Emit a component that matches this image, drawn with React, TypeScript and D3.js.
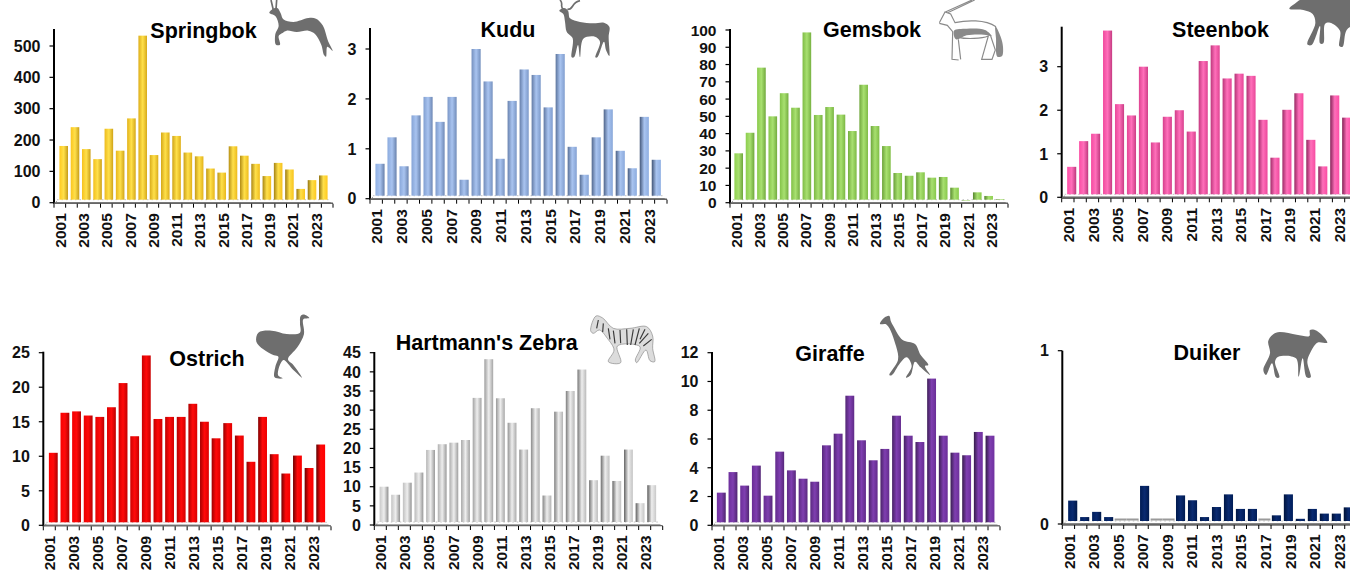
import React from "react";
import * as d3 from "d3";

const years = d3.range(2001, 2025).map(String);

const springbok = [181, 241, 171, 139, 236, 166, 269, 533, 152, 224, 213, 160, 148, 109, 96, 180, 150, 124, 85, 127, 106, 44, 72, 87];
const kudu = [0.7, 1.23, 0.65, 1.67, 2.04, 1.54, 2.04, 0.38, 3, 2.35, 0.8, 1.96, 2.59, 2.48, 1.83, 2.9, 1.04, 0.48, 1.23, 1.79, 0.96, 0.61, 1.64, 0.78];
const gemsbok = [28.6, 40.5, 78.2, 50, 63.4, 55, 98.6, 50.8, 55.4, 51, 41.5, 68.3, 44.4, 32.8, 17.2, 15.6, 17.6, 14.5, 14.9, 8.7, 1.5, 6, 3.9, 2.1];
const steenbok = [0.7, 1.29, 1.46, 3.83, 2.14, 1.88, 3.0, 1.26, 1.85, 2.0, 1.51, 3.13, 3.49, 2.73, 2.84, 2.79, 1.78, 0.91, 2.01, 2.39, 1.32, 0.71, 2.34, 1.83];
const ostrich = [10.5, 16.3, 16.5, 15.9, 15.7, 17.1, 20.6, 12.9, 24.6, 15.4, 15.7, 15.7, 17.6, 15, 12.6, 14.8, 13, 9.2, 15.7, 10.3, 7.5, 10.1, 8.3, 11.7];
const zebra = [10, 7.9, 11.05, 13.7, 19.6, 21.1, 21.5, 22.2, 33.2, 43.3, 33.1, 26.7, 19.7, 30.5, 7.7, 29.6, 35, 40.6, 11.7, 18.1, 11.5, 19.7, 5.7, 10.4];
const giraffe = [2.27, 3.7, 2.76, 4.15, 2.06, 5.12, 3.82, 3.24, 3.03, 5.56, 6.37, 9.01, 5.91, 4.52, 5.31, 7.62, 6.23, 5.79, 10.2, 6.23, 5.05, 4.87, 6.49, 6.23];
const duiker = [0.135, 0.04, 0.07, 0.04, 0, 0, 0.22, 0, 0, 0.165, 0.137, 0.04, 0.098, 0.171, 0.087, 0.087, 0, 0.05, 0.171, 0.03, 0.087, 0.06, 0.06, 0.096];

type Panel = {
  key: string; title: string; values: number[]; ticks: number[];
  axisX: number; axisEnd: number; barFirst: number; barLast: number;
  top: number; y0: number; yTickTop: number; titleX: number; titleY: number;
  mid: string; dark: string; light: string; fs: number; floorW: number;
};

const panels: Panel[] = [
  { key: "sp", title: "Springbok", values: springbok, ticks: [0, 100, 200, 300, 400, 500], axisX: 54, axisEnd: 333, barFirst: 63.7, barLast: 323.3, top: 29, y0: 202.7, yTickTop: 46, titleX: 203.5, titleY: 38, mid: "#FFC91F", dark: "#8a6d10", light: "#FFE04A", fs: 16, floorW: 1.4 },
  { key: "ku", title: "Kudu", values: kudu, ticks: [0, 1, 2, 3], axisX: 370, axisEnd: 667, barFirst: 380, barLast: 656.3, top: 28, y0: 198.7, yTickTop: 49, titleX: 508, titleY: 37, mid: "#8FAFE3", dark: "#3D4F70", light: "#A9C4F0", fs: 16, floorW: 1.4 },
  { key: "ge", title: "Gemsbok", values: gemsbok, ticks: d3.range(0, 101, 10), axisX: 730, axisEnd: 1008, barFirst: 738.7, barLast: 1000, top: 29, y0: 202.7, yTickTop: 30, titleX: 872, titleY: 37, mid: "#8FD14F", dark: "#4d7a28", light: "#A8E070", fs: 15.5, floorW: 1.4 },
  { key: "st", title: "Steenbok", values: steenbok, ticks: [0, 1, 2, 3], axisX: 1061.7, axisEnd: 1357, barFirst: 1071.7, barLast: 1346.7, top: 26.7, y0: 197.3, yTickTop: 66.7, titleX: 1220.5, titleY: 37, mid: "#FF4FA7", dark: "#7A1F50", light: "#FF6FBA", fs: 16, floorW: 2.4 },
  { key: "os", title: "Ostrich", values: ostrich, ticks: [0, 5, 10, 15, 20, 25], axisX: 43.3, axisEnd: 331, barFirst: 53.3, barLast: 320.7, top: 351.7, y0: 525.3, yTickTop: 352.7, titleX: 207, titleY: 365.5, mid: "#FF0000", dark: "#5a0000", light: "#FF0A0A", fs: 16, floorW: 1.4 },
  { key: "ze", title: "Hartmann's Zebra", values: zebra, ticks: d3.range(0, 46, 5), axisX: 374.3, axisEnd: 662.7, barFirst: 384, barLast: 651.7, top: 352, y0: 525, yTickTop: 352.7, titleX: 486.7, titleY: 349.5, mid: "#C8C8C8", dark: "#555555", light: "#EEEEEE", fs: 16, floorW: 1.4 },
  { key: "gi", title: "Giraffe", values: giraffe, ticks: [0, 2, 4, 6, 8, 10, 12], axisX: 712, axisEnd: 1000, barFirst: 721.3, barLast: 990, top: 352, y0: 525.3, yTickTop: 352.7, titleX: 830, titleY: 361, mid: "#7030A0", dark: "#2e1a40", light: "#7F3FB0", fs: 16, floorW: 1.4 },
  { key: "du", title: "Duiker", values: duiker, ticks: [0, 1], axisX: 1062.3, axisEnd: 1357, barFirst: 1072.7, barLast: 1348.3, top: 350.7, y0: 524, yTickTop: 350.7, titleX: 1207, titleY: 360, mid: "#002060", dark: "#001030", light: "#0a2a70", fs: 16, floorW: 2.4 },
];

const FONT = "'Liberation Sans', Arial, sans-serif";
const GREY = "#6e6e6e";

function ChartPanel({ p }: { p: Panel }) {
  const y = d3.scaleLinear().domain([0, p.ticks[p.ticks.length - 1]]).range([p.y0, p.yTickTop]);
  const tickBand = d3.scaleBand().domain(years).range([p.axisX, p.axisEnd]);
  const step = (p.barLast - p.barFirst) / 23;
  const barBand = d3.scaleBand().domain(years).range([p.barFirst - step / 2, p.barLast + step / 2]).paddingInner(0.24).paddingOuter(0.12);
  const base = p.y0 - 3;
  const mix = (t: number) => d3.interpolateRgb(p.mid, p.dark)(t);
  return (
    <g>
      <defs>
        {years.map((yr, i) => {
          const t = i / 23;
          return (
            <linearGradient key={yr} id={`${p.key}-${i}`} x1="0" x2="1" y1="0" y2="0">
              <stop offset="0" stopColor={mix(t * 0.95)} />
              <stop offset="0.5" stopColor={p.light} />
              <stop offset="1" stopColor={mix((1 - t) * 0.5)} />
            </linearGradient>
          );
        })}
      </defs>
      {/* floor */}
      <line x1={p.axisX + 3} x2={p.axisEnd - 3} y1={base} y2={base} stroke="#c4c4c4" strokeWidth={1} strokeDasharray="1.5 3" />
      <path d={`M${p.axisX},${p.y0 + 0.8} L${p.axisX + 3},${p.y0 - 2} L${p.axisX + 3},${p.y0 - 0.8} L${p.axisEnd - 3},${p.y0 - 0.8} L${p.axisEnd},${p.y0 + 0.8} Z`} fill="#8a8a8a" />
      {/* bars */}
      {p.values.map((v, i) => {
        const yr = years[i];
        const bx = barBand(yr)!;
        const bw = barBand.bandwidth();
        if (v === 0) {
          return <rect key={yr} x={bx - step * 0.12} y={base - 2.5} width={step} height={2} fill="#9a9a9a" />;
        }
        const yy = y(v);
        return <rect key={yr} x={bx} y={yy} width={bw} height={Math.max(base - yy, 0.5)} fill={`url(#${p.key}-${i})`} />;
      })}
      {/* axes */}
      <line x1={p.axisX} x2={p.axisX} y1={p.top} y2={p.y0 + 1} stroke="#000" strokeWidth={2} />
      <line x1={p.axisX} x2={p.axisEnd} y1={p.y0 + 0.6} y2={p.y0 + 0.6} stroke="#666" strokeWidth={p.floorW} />
      {p.ticks.map((t) => (
        <g key={t}>
          <line x1={p.axisX - 4.5} x2={p.axisX} y1={y(t)} y2={y(t)} stroke="#000" strokeWidth={1.2} />
          <text x={p.axisX - 13.5} y={y(t)} dy="0.36em" textAnchor="end" fontFamily={FONT} fontWeight={700} fontSize={p.fs} fill="#111">{t}</text>
        </g>
      ))}
      {[...years, "end"].map((yr, i) => {
        const tx = p.axisX + i * tickBand.step();
        return <line key={yr} x1={tx} x2={tx} y1={p.y0 + 1} y2={p.y0 + 5} stroke="#000" strokeWidth={1} />;
      })}
      {years.filter((_, i) => i % 2 === 0).map((yr) => {
        const cx = tickBand(yr)! + tickBand.bandwidth() / 2 + 0.5;
        return (
          <text key={yr} transform={`translate(${cx},${p.y0 + 10.5}) rotate(-90)`} dy="0.36em" textAnchor="end" fontFamily={FONT} fontWeight={700} fontSize={15.5} fill="#111">{yr}</text>
        );
      })}
      <text x={p.titleX} y={p.titleY} textAnchor="middle" fontFamily={FONT} fontWeight={700} fontSize={21.5} fill="#000">{p.title}</text>
    </g>
  );
}

const smooth = d3.line().curve(d3.curveCatmullRomClosed.alpha(0.5));
function Blob({ pts, fill = GREY, stroke = "none", sw = 0 }: { pts: [number, number][]; fill?: string; stroke?: string; sw?: number }) {
  return <path d={smooth(pts) || ""} fill={fill} stroke={stroke} strokeWidth={sw} />;
}

function Crop({ x, y, children }: { x: number; y: number; children: React.ReactNode }) {
  return <g transform={`translate(${x},${y}) scale(${1 / 3})`}>{children}</g>;
}

function Animals() {
  return (
    <g>
      <Crop x={0} y={0}>
        <path fill="none" stroke={GREY} strokeWidth={5} d="M820 30 L813 0 M828 28 L830 0" />
        <Blob pts={[[808, 38], [820, 26], [832, 24], [842, 40], [850, 58], [880, 66], [925, 54], [948, 56], [968, 76], [985, 125], [998, 152], [982, 140], [978, 170], [972, 165], [964, 135], [945, 102], [925, 92], [890, 96], [860, 92], [846, 100], [836, 108], [840, 134], [828, 134], [826, 102], [836, 78], [826, 48]]} />
      </Crop>
      <Crop x={350} y={0}>
        <path fill="none" stroke={GREY} strokeWidth={5} d="M640 28 C628 18 642 12 630 0 M652 28 C672 30 662 8 690 2" />
        <Blob pts={[[628, 32], [642, 24], [654, 32], [660, 55], [690, 66], [730, 70], [762, 68], [778, 80], [776, 110], [778, 168], [768, 150], [762, 125], [742, 172], [736, 172], [750, 125], [735, 110], [700, 116], [690, 172], [684, 135], [672, 172], [665, 172], [668, 115], [650, 95], [645, 65], [640, 42]]} />
      </Crop>
      <Crop x={680} y={0}>
        <path fill="none" stroke="#8a8a8a" strokeWidth={3.5} d="M796 36 L876 0 M803 38 L884 0 M778 68 L795 36 L812 42 L825 68 C860 60 915 58 948 80 M778 70 L802 76 L818 95 L816 178 L836 180 M835 118 L842 178 M835 112 C860 118 905 116 925 108 L905 178 L936 178 L946 150 L932 108" />
        <Blob pts={[[946, 78], [962, 110], [969, 140], [966, 168], [952, 170], [948, 115]]} fill="#8a8a8a" />
        <Blob pts={[[822, 92], [860, 86], [915, 90], [935, 108], [912, 104], [860, 106], [828, 118]]} fill="#8a8a8a" />
      </Crop>
      <Crop x={1030} y={0}>
        <Blob pts={[[778, 26], [798, 8], [815, -2], [900, -10], [990, -10], [990, 60], [950, 90], [938, 140], [928, 138], [930, 92], [900, 68], [885, 72], [880, 130], [870, 130], [870, 78], [845, 135], [832, 133], [856, 70], [848, 42], [820, 30]]} />
      </Crop>
      <Crop x={0} y={310}>
        <Blob pts={[[928, 24], [914, 14], [902, 18], [900, 40], [900, 68], [860, 72], [815, 62], [775, 68], [769, 95], [790, 118], [822, 136], [835, 140], [826, 170], [824, 202], [848, 205], [834, 195], [850, 150], [880, 180], [906, 203], [880, 165], [864, 148], [892, 112], [912, 72], [910, 28]]} />
      </Crop>
      <Crop x={350} y={310}>
        <Blob pts={[[722, 62], [738, 18], [758, 24], [790, 55], [840, 55], [890, 50], [908, 78], [908, 115], [914, 155], [900, 152], [888, 120], [860, 158], [856, 150], [870, 110], [802, 108], [812, 158], [775, 155], [792, 120], [772, 85], [748, 60], [730, 70]]} fill="#dcdcdc" stroke="#888" sw={2} />
        <path fill="none" stroke="#3a3a3a" strokeWidth={3.5} d="M745 30 L740 55 M760 40 L758 66 M775 55 L780 88 M790 62 L795 100 M810 60 L812 100 M830 58 L832 105 M850 58 L842 105 M868 55 L855 105 M885 58 L870 88 M895 70 L868 100 M905 88 L880 108" />
      </Crop>
      <Crop x={680} y={310}>
        <Blob pts={[[600, 42], [612, 24], [628, 18], [632, 32], [640, 48], [668, 90], [705, 102], [722, 135], [745, 165], [735, 168], [750, 195], [722, 172], [705, 155], [692, 195], [678, 203], [695, 168], [680, 142], [660, 160], [635, 196], [628, 195], [654, 150], [648, 108], [620, 44]]} />
      </Crop>
      <Crop x={1030} y={320}>
        <Blob pts={[[715, 62], [738, 38], [800, 44], [838, 48], [840, 30], [860, 32], [892, 68], [862, 68], [840, 100], [832, 125], [842, 172], [830, 172], [818, 115], [806, 170], [798, 115], [745, 110], [735, 125], [748, 172], [738, 172], [726, 130], [708, 165], [700, 150], [720, 100]]} />
      </Crop>
    </g>
  );
}

export default function App() {
  return (
    <svg width={1350} height={576} viewBox="0 0 1350 576" style={{ position: "absolute", left: 0, top: 0, display: "block", background: "#fff" }}>
      {panels.map((p) => <ChartPanel key={p.key} p={p} />)}
      <Animals />
    </svg>
  );
}
